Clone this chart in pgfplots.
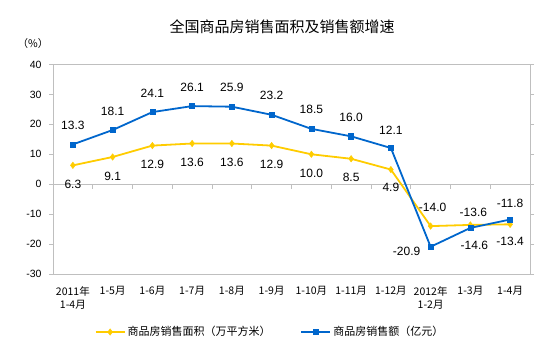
\documentclass[border=0pt]{standalone}
\usepackage{pgfplots}
\pgfplotsset{compat=1.18}
\usepackage{pgfplotstable}
\usepackage{fontspec}
\setmainfont{Liberation Sans}
\newfontfamily\cjk{Noto Sans CJK SC}
\definecolor{cyel}{RGB}{255,204,0}
\definecolor{cblue}{RGB}{0,102,204}
\definecolor{cgray}{RGB}{191,191,191}
\pgfplotstableread{
x y lab dx dy
0 6.3 6.3 0 -19
1 9.1 9.1 0 -19
2 12.9 12.9 0 -19
3 13.6 13.6 0 -19
4 13.6 13.6 0 -19
5 12.9 12.9 0 -19
6 10.0 10.0 0 -19
7 8.5 8.5 0 -19
8 4.9 4.9 0 -18
9 -14.0 -14.0 2 19
10 -13.6 -13.6 3 13
11 -13.4 -13.4 0 -17
}\areatab
\pgfplotstableread{
x y lab dx dy
0 13.3 13.3 0 19
1 18.1 18.1 0 19
2 24.1 24.1 0 19
3 26.1 26.1 0 19
4 25.9 25.9 0 19
5 23.2 23.2 0 19
6 18.5 18.5 0 19
7 16.0 16.0 0 19
8 12.1 12.1 0 18
9 -20.9 -20.9 -24 -5
10 -14.6 -14.6 4 -17
11 -11.8 -11.8 0 16
}\amttab
\begin{document}
\begin{tikzpicture}
\useasboundingbox (0,0) rectangle (554pt,352pt);
\node[font=\cjk\fontsize{15}{18}\selectfont] at (282pt,325pt) {全国商品房销售面积及销售额增速};
\node[font=\cjk\fontsize{10.5}{12}\selectfont] at (33pt,308pt) {（\%）};
\begin{axis}[
  at={(53pt,78pt)}, anchor=south west,
  scale only axis, width=477pt, height=209.5pt,
  xmin=-0.5, xmax=11.5, ymin=-30, ymax=40,
  ytick={-30,-20,...,40},
  xtick={0,...,11},
  xticklabels={{2011年\\1-4月},1-5月,1-6月,1-7月,1-8月,1-9月,1-10月,1-11月,1-12月,{2012年\\1-2月},1-3月,1-4月},
  xticklabel style={font=\cjk\fontsize{10.5}{13}\selectfont, align=center, yshift=-5pt},
  yticklabel style={font=\fontsize{10.5}{12}\selectfont, xshift=-4pt},
  /pgf/number format/assume math mode=true,
  x tick style={draw=none},
  y tick style={cgray, line width=0.8pt},
  tick align=outside, major tick length=4pt,
  axis line style={cgray, line width=0.8pt},
  clip=false,
  legend style={at={(0.455,-0.277)}, anchor=center, draw=none, fill=none,
    legend columns=2, font=\cjk\fontsize{11}{13}\selectfont,
    /tikz/every even column/.append style={column sep=28pt}},
  legend image code/.code={\draw[mark repeat=2,mark phase=2,#1] plot coordinates {(0pt,0pt)(14.5pt,0pt)(29pt,0pt)};},
  nodes near coords={\pgfplotspointmeta},
  every node near coord/.append style={font=\fontsize{12}{14}\selectfont, text=black, anchor=center, xshift=\labdx pt, yshift=\labdy pt},
  visualization depends on={\thisrow{dx} \as \labdx},
  visualization depends on={\thisrow{dy} \as \labdy},
  point meta=explicit symbolic,
]
\draw[cgray, line width=0.8pt] (axis cs:-0.5,0) -- (axis cs:11.5,0);
\pgfplotsinvokeforeach{0.5,1.5,...,10.5}{\draw[cgray, line width=0.8pt] (axis cs:#1,0) -- ([yshift=-5pt]axis cs:#1,0);}
\addplot[cyel, line width=1.8pt, mark=diamond*, mark size=3.2pt, mark options={fill=cyel, draw=cyel, line width=0.5pt}] table[x=x, y=y, meta=lab] {\areatab};
\addlegendentry{商品房销售面积（万平方米）}
\addplot[cblue, line width=1.8pt, mark=square*, mark size=2.6pt, mark options={fill=cblue, draw=cblue, line width=0.5pt}] table[x=x, y=y, meta=lab] {\amttab};
\addlegendentry{商品房销售额（亿元）}
\end{axis}
\end{tikzpicture}
\end{document}
